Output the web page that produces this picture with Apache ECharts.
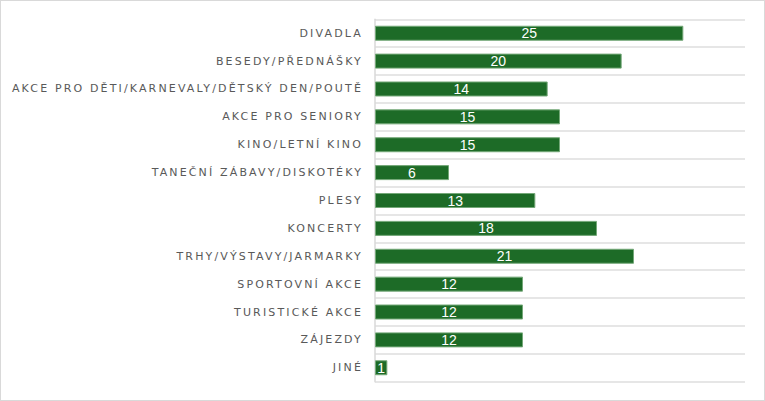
<!DOCTYPE html>
<html>
<head>
<meta charset="utf-8">
<script src="https://cdn.jsdelivr.net/npm/echarts@6/dist/echarts.min.js"></script>
<style>
  html, body { margin: 0; padding: 0; background: #fff; }
  #wrap { position: relative; width: 765px; height: 401px; }
  #chart { position: absolute; left: 0; top: 0; width: 765px; height: 401px; }
  #frame { position: absolute; left: 0; top: 0; width: 765px; height: 401px; box-sizing: border-box; border: 1.5px solid #d9d9d9; pointer-events: none; }
  #chart text[text-anchor="end"] { letter-spacing: 2.15px; }
</style>
</head>
<body>
<div id="wrap">
  <div id="chart"></div>
  <div id="frame"></div>
</div>
<script>
const categories = [
  "DIVADLA",
  "BESEDY/PŘEDNÁŠKY",
  "AKCE PRO DĚTI/KARNEVALY/DĚTSKÝ DEN/POUTĚ",
  "AKCE PRO SENIORY",
  "KINO/LETNÍ KINO",
  "TANEČNÍ ZÁBAVY/DISKOTÉKY",
  "PLESY",
  "KONCERTY",
  "TRHY/VÝSTAVY/JARMARKY",
  "SPORTOVNÍ AKCE",
  "TURISTICKÉ AKCE",
  "ZÁJEZDY",
  "JINÉ"
];
const values = [25, 20, 14, 15, 15, 6, 13, 18, 21, 12, 12, 12, 1];

const chart = echarts.init(document.getElementById('chart'), null, { renderer: 'svg' });
chart.setOption({
  animation: false,
  grid: { left: 375, right: 20, top: 19.3, bottom: 19.3, containLabel: false },
  xAxis: {
    type: 'value', min: 0, max: 30, show: false
  },
  yAxis: {
    type: 'category',
    inverse: true,
    data: categories,
    axisLine: { show: true, lineStyle: { color: '#d9d9d9', width: 1.5 } },
    axisTick: { show: false },
    splitLine: { show: true, lineStyle: { color: '#dedede', width: 1.5 } },
    axisLabel: {
      margin: 12,
      color: '#595959',
      fontFamily: 'DejaVu Sans',
      fontSize: 11
    }
  },
  series: [{
    type: 'bar',
    data: values,
    barWidth: 15,
    itemStyle: { color: '#1d6b27', borderColor: '#74a878', borderWidth: 1 },
    label: {
      show: true,
      position: 'inside',
      color: '#ffffff',
      fontFamily: 'Liberation Sans Narrow, Liberation Sans, sans-serif',
      fontSize: 14
    }
  }]
});
</script>
</body>
</html>
